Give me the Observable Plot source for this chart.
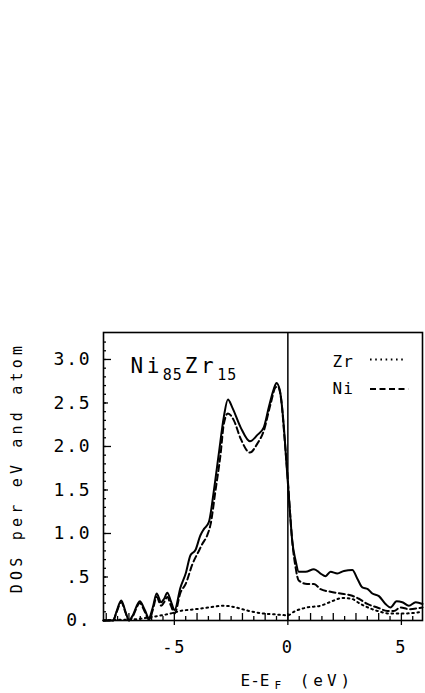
<!DOCTYPE html>
<html><head><meta charset="utf-8">
<script src="https://cdn.jsdelivr.net/npm/d3@7"></script>
<script src="https://cdn.jsdelivr.net/npm/@observablehq/plot@0.6"></script>
<style>
html,body{margin:0;padding:0;background:#fff;}
</style>
</head><body><div id="chart"></div>
<script>
// Total DOS (solid)
const totalE = [-8.12,-7.70,-7.55,-7.34,-7.15,-7.00,-6.85,-6.52,-6.30,-6.12,-5.95,-5.78,-5.58,-5.45,-5.31,-5.15,-4.99,-4.73,-4.50,-4.29,-4.07,-3.85,-3.70,-3.48,-3.26,-3.04,-2.82,-2.64,-2.45,-2.08,-1.67,-1.35,-1.06,-0.84,-0.62,-0.50,-0.35,-0.20,-0.06,0.09,0.19,0.34,0.48,0.78,1.15,1.44,1.66,1.88,2.18,2.47,2.84,3.06,3.28,3.52,3.72,4.01,4.30,4.52,4.79,5.04,5.33,5.63,5.93];
const totalDOS = [0,0,0.10,0.23,0.10,0,0.05,0.22,0.12,0.03,0.15,0.31,0.21,0.25,0.32,0.22,0.12,0.38,0.54,0.75,0.81,0.98,1.05,1.13,1.49,1.92,2.34,2.54,2.45,2.22,2.06,2.13,2.22,2.45,2.66,2.73,2.64,2.30,1.80,1.26,0.92,0.69,0.56,0.56,0.59,0.54,0.51,0.56,0.54,0.57,0.58,0.48,0.38,0.36,0.31,0.28,0.19,0.15,0.22,0.21,0.17,0.21,0.19];
// Ni partial DOS (dashed)
const niE = [-8.12,-7.70,-7.55,-7.34,-7.15,-7.00,-6.85,-6.52,-6.30,-6.12,-5.95,-5.78,-5.58,-5.45,-5.31,-5.15,-4.99,-4.73,-4.50,-4.20,-3.90,-3.77,-3.55,-3.40,-3.19,-2.96,-2.82,-2.64,-2.38,-2.08,-1.67,-1.35,-1.06,-0.76,-0.54,-0.44,-0.29,-0.15,0.00,0.12,0.19,0.34,0.48,0.85,1.15,1.44,1.88,2.32,2.76,3.13,3.50,3.94,4.38,4.67,4.96,5.33,5.70,5.93];
const niDOS = [0,0,0.09,0.21,0.09,0,0.04,0.20,0.10,0.01,0.12,0.27,0.17,0.21,0.27,0.17,0.08,0.32,0.42,0.65,0.81,0.88,0.98,1.11,1.49,1.92,2.26,2.38,2.30,2.09,1.93,2.03,2.18,2.49,2.68,2.69,2.53,2.11,1.61,1.15,0.92,0.61,0.46,0.42,0.42,0.36,0.33,0.31,0.29,0.25,0.19,0.15,0.11,0.11,0.15,0.13,0.14,0.15];
// Zr partial DOS (dotted)
const zrE = [-8.12,-7.5,-7.0,-6.5,-6.0,-5.54,-5.17,-4.73,-4.07,-3.48,-2.82,-2.30,-1.72,-1.06,-0.54,0.00,0.26,0.85,1.44,2.03,2.40,2.80,3.20,3.94,4.52,5.10,5.93];
const zrDOS = [0,0.01,0.01,0.02,0.04,0.06,0.08,0.11,0.13,0.15,0.17,0.15,0.11,0.08,0.07,0.06,0.10,0.15,0.17,0.23,0.26,0.25,0.19,0.11,0.08,0.08,0.10];

const yTicks = [0,0.5,1,1.5,2,2.5,3];
const yTickLabels = ["0.",".5","1.0","1.5","2.0","2.5","3.0"];
const xTicks = [-5,0,5];
const xTickLabels = ["-5","0","5"];
const titleText = "Ni85Zr15";
const yLabel = "DOS per eV and atom";
const xLabel = "E-EF (eV)";
const legendLabels = ["Zr","Ni"];

const toRows = (E, D) => E.map((e, i) => ({e, dos: D[i]}));
const totalRows = toRows(totalE, totalDOS);
const niRows = toRows(niE, niDOS);
const zrRows = toRows(zrE, zrDOS);

const yTenths = d3.range(0, 33).map(i => i / 10);
const yHalves = [0.5, 1.5, 2.5];
const yInts = [0, 1, 2, 3];
const xHalves = d3.range(-15, 12, 2).map(i => i / 2);
const xInts = d3.range(-8, 6);

const mono = "DejaVu Sans Mono";
const tickOpts = {label: null, tickFormat: () => "", strokeWidth: 1.3};

const chart = Plot.plot({
  width: 425, height: 693,
  marginLeft: 103, marginRight: 3, marginTop: 332, marginBottom: 73,
  x: {domain: [-8.12, 5.93]},
  y: {domain: [0, 3.31]},
  style: {background: "white", color: "black", fontFamily: mono, fontSize: "16px"},
  marks: [
    // inward y ticks
    Plot.axisY(yTenths, {...tickOpts, tickSize: 3, dx: 3}),
    Plot.axisY(yHalves, {...tickOpts, tickSize: 5, dx: 5}),
    Plot.axisY(yInts, {...tickOpts, tickSize: 8, dx: 8}),
    Plot.axisY(yTicks, {label: null, tickSize: 0, tickPadding: 12, fontSize: 18, fontFamily: mono,
      tickFormat: d => yTickLabels[yTicks.indexOf(d)]}),
    // x ticks
    Plot.axisX(xHalves, {...tickOpts, tickSize: 4, dy: -4}),
    Plot.axisX(xInts, {...tickOpts, tickSize: 7, dy: -7}),
    Plot.axisX(xTicks, {...tickOpts, tickSize: 5}),
    Plot.axisX(xTicks, {label: null, tickSize: 0, tickPadding: 20, fontSize: 17, fontFamily: mono,
      tickFormat: d => xTickLabels[xTicks.indexOf(d)]}),
    Plot.frame({strokeWidth: 1.6}),
    Plot.ruleX([0], {strokeWidth: 1.5}),
    Plot.line(zrRows, {x: "e", y: "dos", stroke: "black", strokeWidth: 2, strokeDasharray: "1.6,3.6", curve: "monotone-x"}),
    Plot.line(niRows, {x: "e", y: "dos", stroke: "black", strokeWidth: 2, strokeDasharray: "6,3.5", curve: "monotone-x"}),
    Plot.line(totalRows, {x: "e", y: "dos", stroke: "black", strokeWidth: 2, curve: "monotone-x"}),
    // legend
    Plot.ruleY([3.0], {x1: 3.64, x2: 5.19, strokeWidth: 2, strokeDasharray: "1.6,3.6"}),
    Plot.ruleY([2.66], {x1: 3.64, x2: 5.32, strokeWidth: 2, strokeDasharray: "6,3.5"}),
    Plot.text([legendLabels[0]], {frameAnchor: "top-left", dx: 229, dy: 34, textAnchor: "start", lineAnchor: "bottom", fontSize: 16}),
    Plot.text([legendLabels[1]], {frameAnchor: "top-left", dx: 229, dy: 61, textAnchor: "start", lineAnchor: "bottom", fontSize: 16}),
    // title inside
    Plot.text([titleText], {frameAnchor: "top-left", dx: 27, dy: 40, textAnchor: "start", lineAnchor: "bottom", fontSize: 21}),
    // axis labels
    Plot.text([yLabel], {frameAnchor: "left", rotate: -90, dx: -86, dy: -9, textAnchor: "middle", lineAnchor: "middle", fontSize: 15}),
    Plot.text([xLabel], {frameAnchor: "bottom-left", dx: 137, dy: 65, textAnchor: "start", lineAnchor: "bottom", fontSize: 16})
  ]
});
document.getElementById("chart").append(chart);

const svg = d3.select(chart);
svg.selectAll('g[aria-label="y-axis tick label"] text, g[aria-label="x-axis tick label"] text')
  .attr("letter-spacing", "1.8");
svg.selectAll("text").each(function () {
  const t = this.textContent;
  const sel = d3.select(this);
  if (t === titleText) {
    sel.text(null).attr("letter-spacing", "3.5");
    sel.append("tspan").text("Ni");
    sel.append("tspan").attr("font-size", 15).attr("dy", 7).attr("letter-spacing", "1").text("85");
    sel.append("tspan").attr("dy", -7).attr("dx", 2).text("Zr");
    sel.append("tspan").attr("font-size", 15).attr("dy", 7).attr("letter-spacing", "1").text("15");
  } else if (t === xLabel) {
    sel.text(null);
    sel.append("tspan").text("E-E");
    sel.append("tspan").attr("font-size", 11).attr("dy", 3).attr("dx", 5).text("F");
    sel.append("tspan").attr("dy", -3).attr("dx", 5).attr("letter-spacing", "4").text(" (eV)");
  } else if (t === yLabel) {
    sel.attr("letter-spacing", "4.2");
  } else if (legendLabels.includes(t)) {
    sel.attr("letter-spacing", "1.2");
  }
});
</script>
</body></html>
